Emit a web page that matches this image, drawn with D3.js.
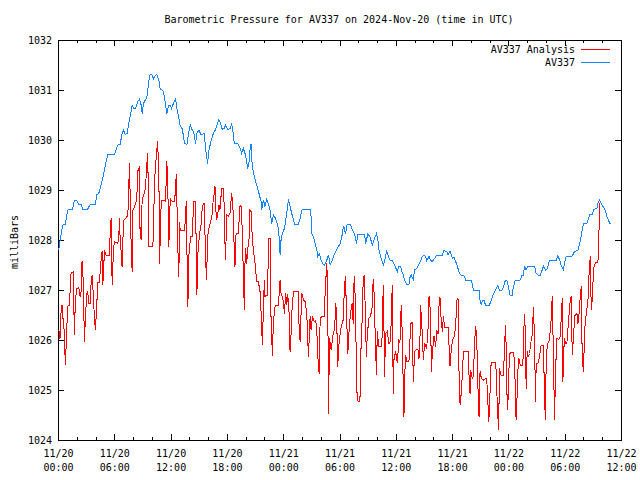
<!DOCTYPE html>
<html><head><meta charset="utf-8">
<script src="https://cdn.jsdelivr.net/npm/d3@7"></script>
<style>
body{margin:0;background:#fff}
text{font-family:"DejaVu Sans Mono",monospace;font-size:10px;fill:#000}
</style>
</head><body><svg id="c" width="640" height="480"></svg>
<script>
const titleText = "Barometric Pressure for AV337 on 2024-Nov-20 (time in UTC)";
const yLabel = "milliBars";
const startTime = Date.UTC(2024, 10, 20, 0, 0, 0);
const xMajorHours = [0, 6, 12, 18, 24, 30, 36, 42, 48, 54, 60];
const xMinorHours = [2, 4, 8, 10, 14, 16, 20, 22, 26, 28, 32, 34, 38, 40, 44, 46, 50, 52, 56, 58];
const yTicks = [1024, 1025, 1026, 1027, 1028, 1029, 1030, 1031, 1032];
const seriesNames = ["AV337 Analysis", "AV337"];
const seriesColors = ["#ff0000", "#1485ff"];

// [hours since 2024-11-20 00:00 UTC, millibars]
const analysisSeries = [
[0.07,1026.20],[0.14,1026.17],[0.21,1026.03],[0.32,1026.53],[0.43,1026.70],[0.50,1026.43],[0.57,1026.43],[0.68,1026.10],[0.78,1025.50],[0.85,1025.80],
[1.03,1026.67],[1.21,1026.70],[1.39,1027.33],[1.64,1027.37],[1.74,1026.11],[1.85,1026.77],[1.99,1027.02],[2.21,1027.05],[2.35,1026.87],[2.46,1026.97],
[2.56,1027.57],[2.70,1027.17],[2.81,1025.97],[2.92,1026.43],[3.06,1026.93],[3.17,1026.97],[3.27,1026.73],[3.42,1026.73],[3.52,1027.10],[3.63,1027.30],
[3.77,1026.90],[3.88,1026.43],[3.99,1026.20],[4.13,1026.70],[4.24,1027.15],[4.41,1027.15],[4.59,1027.60],[4.70,1027.77],[4.77,1027.10],[4.84,1027.30],
[4.95,1027.80],[5.12,1027.70],[5.48,1027.70],[5.55,1028.07],[5.66,1028.43],[5.77,1027.10],[5.91,1027.80],[6.01,1027.97],[6.37,1027.93],[6.48,1028.07],
[6.55,1028.43],[6.62,1028.03],[6.73,1027.77],[6.83,1027.47],[6.98,1028.38],[7.19,1028.43],[7.33,1028.47],[7.44,1028.47],[7.62,1029.53],[7.79,1027.93],
[7.90,1027.37],[7.97,1028.58],[8.15,1028.67],[8.33,1028.77],[8.43,1028.98],[8.51,1029.38],[8.68,1029.47],[8.75,1028.05],[8.86,1028.02],[8.97,1028.83],
[9.11,1028.87],[9.22,1028.97],[9.32,1029.03],[9.47,1029.53],[9.57,1029.73],[9.68,1027.87],[10.11,1027.87],[10.21,1028.50],[10.28,1029.17],[10.46,1029.63],
[10.61,1029.97],[10.75,1029.37],[10.82,1027.53],[11.00,1028.77],[11.10,1028.79],[11.35,1028.79],[11.46,1028.78],[11.60,1029.57],[11.71,1028.97],[11.81,1027.87],
[11.96,1028.83],[12.17,1028.77],[12.42,1028.77],[12.53,1029.03],[12.60,1029.31],[12.67,1028.78],[12.78,1027.80],[12.88,1027.27],[12.95,1028.35],[13.02,1028.20],
[13.49,1028.20],[13.59,1028.47],[13.67,1028.77],[13.74,1027.80],[13.84,1026.67],[13.95,1027.70],[14.13,1028.07],[14.31,1028.07],[14.45,1028.77],[14.66,1028.77],
[14.73,1027.87],[14.80,1026.90],[14.91,1027.73],[15.09,1028.13],[15.23,1028.27],[15.37,1028.63],[15.48,1028.73],[15.59,1028.73],[15.73,1027.60],[15.84,1027.20],
[15.94,1028.07],[16.09,1028.23],[16.30,1028.40],[16.44,1028.53],[16.55,1028.83],[16.65,1028.93],[16.73,1029.07],[16.80,1028.67],[16.90,1028.40],[17.01,1028.50],
[17.15,1028.70],[17.26,1028.60],[17.44,1029.03],[17.62,1029.03],[17.72,1028.67],[17.79,1027.97],[17.86,1027.60],[17.97,1028.50],[18.15,1028.47],[18.33,1028.53],
[18.51,1028.93],[18.58,1028.80],[18.68,1028.53],[18.79,1027.73],[18.86,1027.47],[18.93,1028.07],[19.04,1028.13],[19.22,1028.13],[19.39,1028.67],[19.50,1028.70],
[19.64,1028.20],[19.75,1027.33],[19.86,1026.60],[19.93,1027.53],[20.00,1027.83],[20.11,1027.53],[20.21,1027.80],[20.36,1028.03],[20.46,1028.60],[20.57,1028.57],
[20.71,1028.03],[20.82,1027.80],[21.00,1027.53],[21.17,1027.17],[21.35,1027.17],[21.53,1026.97],[21.64,1026.57],[21.78,1025.90],[21.89,1026.63],[21.99,1027.20],
[22.06,1026.87],[22.13,1026.90],[22.35,1026.90],[22.42,1028.03],[22.60,1028.03],[22.70,1026.47],[22.85,1025.68],[22.95,1026.37],[23.13,1026.67],[23.31,1026.70],
[23.49,1026.70],[23.56,1026.90],[23.67,1027.20],[23.77,1026.93],[23.91,1026.87],[24.02,1026.77],[24.13,1026.53],[24.27,1026.93],[24.38,1026.70],[24.48,1026.92],
[24.63,1026.53],[24.73,1025.77],[24.84,1026.13],[24.91,1026.53],[25.09,1026.97],[25.62,1026.97],[25.69,1026.27],[25.80,1025.97],[25.98,1026.93],[26.16,1026.80],
[26.33,1026.77],[26.51,1026.53],[26.62,1026.00],[26.69,1025.67],[26.87,1026.47],[26.97,1026.20],[27.12,1026.48],[27.22,1026.40],[27.33,1026.37],[27.47,1026.40],
[27.58,1026.20],[27.69,1025.67],[27.83,1025.33],[27.94,1026.43],[28.11,1026.47],[28.40,1026.47],[28.47,1027.00],[28.65,1027.53],[28.75,1026.80],[28.83,1024.53],
[28.93,1026.03],[29.11,1025.80],[29.25,1026.00],[29.36,1026.17],[29.47,1026.20],[29.61,1026.73],[29.71,1026.33],[29.82,1025.47],[29.89,1025.83],[30.07,1026.13],
[30.18,1026.27],[30.39,1026.40],[30.53,1027.07],[30.64,1027.27],[30.75,1026.50],[30.89,1025.73],[31.00,1026.13],[31.17,1026.53],[31.35,1026.73],[31.46,1026.33],
[31.53,1027.10],[31.60,1027.27],[31.71,1026.60],[31.81,1025.35],[31.89,1024.79],[32.06,1024.77],[32.17,1024.79],[32.24,1025.13],[32.31,1026.07],[32.42,1026.40],
[32.53,1027.25],[32.67,1027.28],[32.78,1026.20],[32.88,1025.67],[32.95,1026.07],[33.13,1026.43],[33.31,1026.48],[33.49,1026.67],[33.59,1027.21],[33.67,1027.00],
[33.74,1026.60],[33.84,1025.80],[33.95,1025.30],[34.02,1026.17],[34.20,1025.87],[34.45,1025.87],[34.55,1026.07],[34.66,1027.10],[34.73,1026.40],[34.80,1025.27],
[34.91,1026.13],[35.09,1026.17],[35.27,1025.93],[35.37,1025.92],[35.52,1026.37],[35.62,1027.10],[35.73,1024.92],[35.80,1025.60],[35.98,1025.77],[36.16,1025.55],
[36.23,1025.73],[36.33,1026.01],[36.44,1025.95],[36.58,1026.70],[36.69,1026.10],[36.80,1025.03],[36.87,1024.47],[36.94,1025.23],[37.05,1025.70],[37.15,1025.57],
[37.40,1025.57],[37.51,1026.00],[37.58,1026.33],[37.76,1026.35],[37.86,1025.17],[38.01,1025.77],[38.22,1025.81],[38.36,1025.81],[38.47,1025.63],[38.58,1026.07],
[38.65,1026.70],[38.72,1026.43],[38.83,1026.13],[38.93,1025.60],[39.07,1025.93],[39.29,1025.83],[39.43,1026.21],[39.54,1026.87],[39.64,1026.67],[39.71,1026.47],
[39.79,1025.37],[39.89,1025.73],[40.07,1026.08],[40.25,1025.87],[40.36,1026.20],[40.50,1026.12],[40.60,1026.67],[40.71,1026.85],[40.78,1026.53],[40.85,1026.40],
[40.96,1026.17],[41.07,1026.47],[41.21,1026.25],[41.57,1026.25],[41.67,1025.90],[41.78,1025.48],[41.85,1025.67],[42.03,1026.00],[42.21,1026.07],[42.38,1026.27],
[42.49,1026.79],[42.63,1026.83],[42.74,1025.35],[42.85,1024.70],[42.92,1024.80],[43.10,1025.33],[43.20,1025.77],[43.70,1025.77],[43.81,1025.27],[43.91,1024.93],
[43.98,1025.40],[44.06,1025.30],[44.16,1025.23],[44.27,1025.27],[44.41,1026.00],[44.52,1026.28],[44.63,1026.00],[44.77,1024.97],[44.87,1024.47],[44.98,1025.37],
[45.12,1025.23],[45.34,1025.20],[45.55,1025.23],[45.69,1025.23],[45.80,1024.80],[45.91,1024.37],[45.98,1024.63],[46.16,1025.55],[46.62,1025.55],[46.69,1025.40],
[46.76,1025.00],[46.87,1024.47],[46.97,1024.21],[47.04,1025.43],[47.22,1025.30],[47.47,1025.30],[47.58,1025.80],[47.69,1026.30],[47.76,1025.87],[47.83,1025.00],
[47.93,1024.60],[48.04,1025.37],[48.18,1025.75],[48.54,1025.75],[48.65,1025.57],[48.75,1024.93],[48.82,1024.40],[48.90,1024.73],[49.00,1025.37],[49.11,1025.63],
[49.25,1025.50],[49.54,1025.50],[49.61,1026.00],[49.71,1026.52],[49.82,1026.13],[49.89,1025.03],[50.00,1025.77],[50.11,1025.67],[50.25,1025.73],[50.43,1026.00],
[50.53,1026.10],[50.67,1026.65],[50.78,1026.03],[50.89,1024.77],[50.96,1025.53],[51.14,1025.53],[51.32,1025.67],[51.49,1025.90],[51.74,1025.90],[51.85,1024.80],
[51.96,1024.40],[52.03,1025.70],[52.20,1025.93],[52.38,1026.01],[52.56,1026.43],[52.67,1026.87],[52.74,1026.23],[52.92,1024.40],[53.02,1025.37],[53.17,1026.03],
[53.38,1026.01],[53.52,1026.07],[53.63,1026.43],[53.74,1026.83],[53.81,1025.17],[53.88,1025.73],[53.98,1026.03],[54.09,1025.93],[54.23,1025.93],[54.45,1026.48],
[54.59,1026.80],[54.70,1026.87],[54.80,1025.70],[54.95,1026.07],[55.05,1026.48],[55.30,1026.53],[55.41,1026.33],[55.51,1026.47],[55.66,1026.87],[55.76,1027.07],
[55.87,1025.60],[56.01,1025.37],[56.12,1026.20],[56.30,1026.53],[56.48,1026.80],[56.58,1027.27],[56.72,1027.67],[56.83,1026.60],[56.94,1026.83],[57.08,1027.43],
[57.29,1027.55],[57.54,1027.55],[57.65,1028.13],[57.72,1028.73]
];

const stationSeries = [
[0.07,1027.80],[0.21,1027.97],[0.50,1028.30],[0.78,1028.31],[1.03,1028.60],[1.57,1028.62],[1.74,1028.80],[1.99,1028.80],[2.21,1028.71],[2.46,1028.71],
[2.63,1028.62],[3.17,1028.62],[3.42,1028.71],[3.99,1028.71],[4.13,1028.91],[4.34,1028.93],[4.59,1029.10],[4.77,1029.23],[5.05,1029.50],[5.30,1029.71],
[6.01,1029.71],[6.19,1029.80],[6.37,1029.90],[6.62,1029.91],[6.83,1030.13],[6.98,1030.20],[7.15,1030.11],[7.37,1030.13],[7.54,1030.33],[7.79,1030.57],
[7.90,1030.70],[8.08,1030.63],[8.26,1030.63],[8.51,1030.77],[8.68,1030.82],[8.86,1030.70],[8.97,1030.53],[9.11,1030.73],[9.32,1030.81],[9.47,1030.85],
[9.68,1031.18],[9.82,1031.31],[10.04,1031.30],[10.18,1031.22],[10.39,1031.29],[10.53,1031.31],[10.75,1031.20],[10.89,1031.02],[11.17,1030.99],[11.35,1030.87],
[11.46,1030.70],[11.60,1030.53],[11.78,1030.70],[11.99,1030.70],[12.10,1030.63],[12.24,1030.70],[12.42,1030.78],[12.53,1030.82],[12.67,1030.63],[12.88,1030.43],
[13.02,1030.29],[13.24,1030.22],[13.38,1030.07],[13.49,1029.93],[13.74,1029.91],[13.95,1030.17],[14.09,1030.30],[14.23,1030.22],[14.45,1030.17],[14.66,1029.93],
[14.80,1030.13],[15.02,1030.20],[15.23,1030.11],[15.59,1030.13],[15.73,1029.83],[15.94,1029.53],[16.09,1029.80],[16.30,1029.97],[16.55,1030.13],[16.80,1030.21],
[17.01,1030.33],[17.15,1030.41],[17.37,1030.30],[17.51,1030.21],[17.72,1030.23],[17.86,1030.30],[18.08,1030.21],[18.33,1030.23],[18.51,1030.32],[18.68,1030.13],
[18.79,1029.93],[19.15,1029.93],[19.39,1029.85],[19.57,1029.73],[19.75,1029.83],[19.93,1029.73],[20.11,1029.57],[20.21,1029.43],[20.36,1029.57],[20.46,1029.80],
[20.57,1029.92],[20.64,1029.63],[20.75,1029.43],[20.92,1029.27],[21.17,1029.10],[21.42,1028.93],[21.64,1028.77],[21.71,1028.60],[21.89,1028.80],[22.06,1028.67],
[22.24,1028.81],[22.42,1028.73],[22.60,1028.60],[22.78,1028.33],[22.95,1028.50],[23.13,1028.45],[23.42,1028.30],[23.56,1028.07],[23.67,1027.70],[23.77,1028.00],
[23.91,1028.13],[24.13,1028.23],[24.27,1028.40],[24.48,1028.67],[24.55,1028.81],[24.73,1028.67],[24.91,1028.53],[25.20,1028.32],[25.62,1028.32],[25.80,1028.43],
[25.98,1028.60],[26.16,1028.61],[26.87,1028.61],[26.97,1028.47],[27.05,1028.13],[27.22,1028.07],[27.40,1027.93],[27.58,1027.80],[27.69,1027.67],[27.83,1027.73],
[28.04,1027.60],[28.18,1027.53],[28.40,1027.50],[28.65,1027.60],[28.83,1027.70],[29.00,1027.50],[29.18,1027.57],[29.36,1027.67],[29.61,1027.77],[29.89,1027.87],
[30.07,1027.93],[30.25,1028.07],[30.39,1028.23],[30.46,1028.27],[30.64,1028.13],[30.82,1028.32],[31.17,1028.32],[31.35,1028.21],[31.60,1028.12],[31.81,1027.93],
[31.96,1028.12],[32.67,1028.12],[32.78,1027.93],[33.02,1028.12],[33.24,1028.07],[33.49,1027.90],[33.67,1028.00],[33.95,1028.13],[34.09,1028.00],[34.20,1027.80],
[34.38,1027.67],[34.66,1027.50],[34.80,1027.57],[35.02,1027.79],[35.16,1027.70],[35.37,1027.60],[35.62,1027.59],[35.80,1027.53],[35.98,1027.45],[36.16,1027.37],
[36.33,1027.48],[36.51,1027.48],[36.62,1027.37],[36.80,1027.30],[36.94,1027.20],[37.15,1027.11],[37.40,1027.10],[37.51,1027.25],[37.65,1027.30],[37.86,1027.21],
[38.01,1027.40],[38.22,1027.43],[38.47,1027.52],[38.65,1027.59],[38.83,1027.67],[39.00,1027.70],[39.18,1027.67],[39.29,1027.59],[39.43,1027.63],[39.54,1027.67],
[39.71,1027.59],[39.89,1027.57],[40.14,1027.63],[40.36,1027.70],[40.96,1027.70],[41.14,1027.79],[41.42,1027.77],[41.57,1027.70],[41.78,1027.77],[42.03,1027.63],
[42.21,1027.65],[42.38,1027.57],[42.56,1027.48],[42.74,1027.35],[42.92,1027.30],[43.27,1027.28],[43.45,1027.20],[44.06,1027.20],[44.27,1027.00],[44.87,1027.00],
[44.98,1026.80],[45.12,1026.70],[45.23,1026.80],[45.41,1026.80],[45.55,1026.70],[45.98,1026.70],[46.16,1026.79],[46.33,1026.88],[46.62,1027.00],[46.87,1027.08],
[47.04,1027.00],[47.33,1027.00],[47.47,1027.07],[47.69,1027.20],[47.83,1027.20],[48.04,1027.03],[48.18,1026.90],[48.40,1026.90],[48.54,1027.07],[48.75,1027.20],
[49.25,1027.20],[49.46,1027.30],[49.61,1027.30],[49.71,1027.48],[49.89,1027.40],[50.07,1027.48],[50.78,1027.48],[50.96,1027.33],[51.14,1027.30],[51.39,1027.30],
[51.60,1027.40],[51.74,1027.48],[51.96,1027.40],[52.10,1027.41],[52.38,1027.59],[53.09,1027.59],[53.27,1027.68],[53.45,1027.61],[53.63,1027.48],[53.88,1027.40],
[53.98,1027.55],[54.16,1027.68],[54.80,1027.68],[55.05,1027.77],[55.41,1027.80],[55.59,1027.93],[55.76,1028.07],[55.87,1028.21],[56.01,1028.32],[56.37,1028.33],
[56.58,1028.45],[56.65,1028.52],[56.94,1028.52],[57.08,1028.60],[57.29,1028.63],[57.44,1028.63],[57.54,1028.73],[57.72,1028.80],[57.90,1028.73],[58.15,1028.65],
[58.36,1028.57],[58.50,1028.47],[58.72,1028.37],[58.86,1028.32]
];

const svg = d3.select("#c");
const L = 58, R = 621, T = 40, B = 440;
const hourDate = h => new Date(startTime + h * 3600000);
const x = d3.scaleUtc().domain([hourDate(0), hourDate(60)]).range([L, R]);
const y = d3.scaleLinear().domain([1024, 1032]).range([B, T]);

const two = d3.utcFormat("%m/%d"), hm = d3.utcFormat("%H:%M");

// bottom major
const gB = svg.append("g").attr("transform", `translate(0,${B})`)
  .call(d3.axisBottom(x).tickValues(xMajorHours.map(hourDate)).tickSizeInner(-6).tickSizeOuter(0).tickFormat(""));
gB.select(".domain").remove();
gB.selectAll(".tick").each(function(d){
  const t = d3.select(this).append("text").attr("text-anchor","middle").attr("fill","#000");
  t.append("tspan").attr("x",0).attr("y",17).text(two(d));
  t.append("tspan").attr("x",0).attr("y",31).text(hm(d));
});
// bottom minor
svg.append("g").attr("transform", `translate(0,${B})`)
  .call(d3.axisBottom(x).tickValues(xMinorHours.map(hourDate)).tickSizeInner(-3).tickSizeOuter(0).tickFormat(""))
  .call(g => g.select(".domain").remove());
// top major/minor
svg.append("g").attr("transform", `translate(0,${T})`)
  .call(d3.axisTop(x).tickValues(xMajorHours.map(hourDate)).tickSizeInner(-6).tickSizeOuter(0).tickFormat(""))
  .call(g => g.select(".domain").remove());
svg.append("g").attr("transform", `translate(0,${T})`)
  .call(d3.axisTop(x).tickValues(xMinorHours.map(hourDate)).tickSizeInner(-3).tickSizeOuter(0).tickFormat(""))
  .call(g => g.select(".domain").remove());
// left
const gL = svg.append("g").attr("transform", `translate(${L},0)`)
  .call(d3.axisLeft(y).tickValues(yTicks).tickSizeInner(-6).tickSizeOuter(0).tickPadding(6).tickFormat(d3.format("d")));
gL.select(".domain").remove();
gL.selectAll("text").attr("dy","0.35em");
// right
svg.append("g").attr("transform", `translate(${R},0)`)
  .call(d3.axisRight(y).tickValues(yTicks).tickSizeInner(-6).tickSizeOuter(0).tickFormat(""))
  .call(g => g.select(".domain").remove());

svg.selectAll(".tick line").attr("stroke","#000").attr("shape-rendering","crispEdges");
svg.selectAll("g").attr("font-family", null).attr("font-size", null);

// frame
svg.append("rect").attr("x", L + 0.5).attr("y", T + 0.5).attr("width", R - L).attr("height", B - T)
  .attr("fill","none").attr("stroke","#000").attr("shape-rendering","crispEdges");

const line = d3.line().x(d => x(hourDate(d[0]))).y(d => y(d[1]));
const seriesData = [analysisSeries, stationSeries];
[1, 0].forEach(i => {
  svg.append("path").datum(seriesData[i]).attr("d", line)
    .attr("fill","none").attr("stroke", seriesColors[i]).attr("stroke-width", 1)
    .attr("shape-rendering","crispEdges");
});

// legend
seriesNames.forEach((n, i) => {
  const yy = 49 + i * 13;
  svg.append("text").attr("x", 575).attr("y", yy).attr("dy","0.35em").attr("text-anchor","end").text(n);
  svg.append("line").attr("x1", 581).attr("x2", 610).attr("y1", yy + 0.5).attr("y2", yy + 0.5)
    .attr("stroke", seriesColors[i]).attr("stroke-width", 1).attr("shape-rendering","crispEdges");
});

// title & y label
svg.append("text").attr("x", 339).attr("y", 19).attr("dy","0.35em").attr("text-anchor","middle").text(titleText);
svg.append("text").attr("transform","translate(14,242) rotate(-90)").attr("dy","0.35em").attr("text-anchor","middle").text(yLabel);
</script>
</body></html>
